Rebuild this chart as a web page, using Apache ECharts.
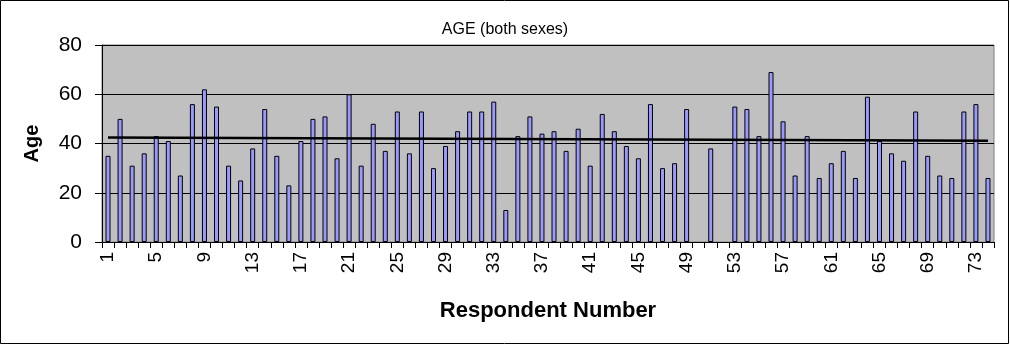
<!DOCTYPE html>
<html>
<head>
<meta charset="utf-8">
<style>
  html, body { margin: 0; padding: 0; background: #fff; }
  #chart { width: 1010px; height: 345px; }
</style>
<script src="https://cdn.jsdelivr.net/npm/echarts@6/dist/echarts.min.js"></script>
</head>
<body>
<div id="chart"></div>
<script>
// Respondent numbers 1..74
const respondents = [
  '1','2','3','4','5','6','7','8','9','10','11','12','13','14','15','16','17','18','19','20',
  '21','22','23','24','25','26','27','28','29','30','31','32','33','34','35','36','37','38','39','40',
  '41','42','43','44','45','46','47','48','49','50','51','52','53','54','55','56','57','58','59','60',
  '61','62','63','64','65','66','67','68','69','70','71','72','73','74'
];

// Age of each respondent (null = no answer)
const ages = [
  35, 50, 31, 36, 43, 41, 27, 56, 62, 55, 31, 25, 38, 54, 35, 23, 41, 50, 51, 34,
  60, 31, 48, 37, 53, 36, 53, 30, 39, 45, 53, 53, 57, 13, 43, 51, 44, 45, 37, 46,
  31, 52, 45, 39, 34, 56, 30, 32, 54, null, 38, null, 55, 54, 43, 69, 49, 27, 43, 26,
  32, 37, 26, 59, 41, 36, 33, 53, 35, 27, 26, 53, 56, 26
];

// Linear trend of age: value at first and last respondent
const trendEnds = [42.4, 41.1];

// Value axis ticks
const yTicks = [0, 20, 40, 60, 80];

const FONT = 'Arial, "Liberation Sans", sans-serif';

const chart = echarts.init(document.getElementById('chart'), null, { renderer: 'canvas' });

chart.setOption({
  animation: false,
  backgroundColor: '#ffffff',
  title: {
    text: 'AGE (both sexes)',
    left: 'center',
    top: 17,
    textStyle: { fontFamily: FONT, fontSize: 16, fontWeight: 'normal', color: '#000' }
  },
  grid: {
    left: 102, right: 16, top: 45, bottom: 103,
    show: true,
    backgroundColor: '#c0c0c0',
    borderColor: '#808080',
    borderWidth: 1
  },
  xAxis: {
    type: 'category',
    data: respondents,
    boundaryGap: true,
    name: 'Respondent Number',
    nameLocation: 'middle',
    nameGap: 58,
    nameTextStyle: { fontFamily: FONT, fontSize: 22, fontWeight: 'bold', color: '#000' },
    axisLine: { lineStyle: { color: '#000', width: 1 } },
    axisTick: { show: true, interval: 0, length: 6, lineStyle: { color: '#000' } },
    axisLabel: {
      interval: 3,
      rotate: 90,
      margin: 10,
      fontFamily: FONT,
      fontSize: 19,
      color: '#000'
    },
    splitLine: { show: false }
  },
  yAxis: {
    type: 'value',
    min: yTicks[0],
    max: yTicks[yTicks.length - 1],
    interval: yTicks[1] - yTicks[0],
    name: 'Age',
    nameLocation: 'middle',
    nameGap: 60,
    nameTextStyle: { fontFamily: FONT, fontSize: 20, fontWeight: 'bold', color: '#000' },
    axisLine: { show: true, lineStyle: { color: '#000', width: 1 } },
    axisTick: { show: true, length: 7, lineStyle: { color: '#000' } },
    axisLabel: { margin: 20, fontFamily: FONT, fontSize: 21, color: '#000' },
    splitLine: { show: true, lineStyle: { color: '#000', width: 1 } }
  },
  series: [{
    type: 'bar',
    data: ages,
    barWidth: 5,
    itemStyle: { color: '#9999ff', borderColor: '#000', borderWidth: 1 },
    markLine: {
      silent: true,
      symbol: ['none', 'none'],
      label: { show: false },
      lineStyle: { color: '#000', width: 2.5, type: 'solid' },
      data: [[
        { coord: [respondents[0], trendEnds[0]] },
        { coord: [respondents[respondents.length - 1], trendEnds[1]] }
      ]]
    }
  }],
  graphic: [{
    type: 'rect',
    silent: true,
    shape: { x: 0.5, y: 0.5, width: 1008, height: 343 },
    style: { fill: null, stroke: '#000', lineWidth: 1 },
    z: 100
  }]
});
</script>
</body>
</html>
